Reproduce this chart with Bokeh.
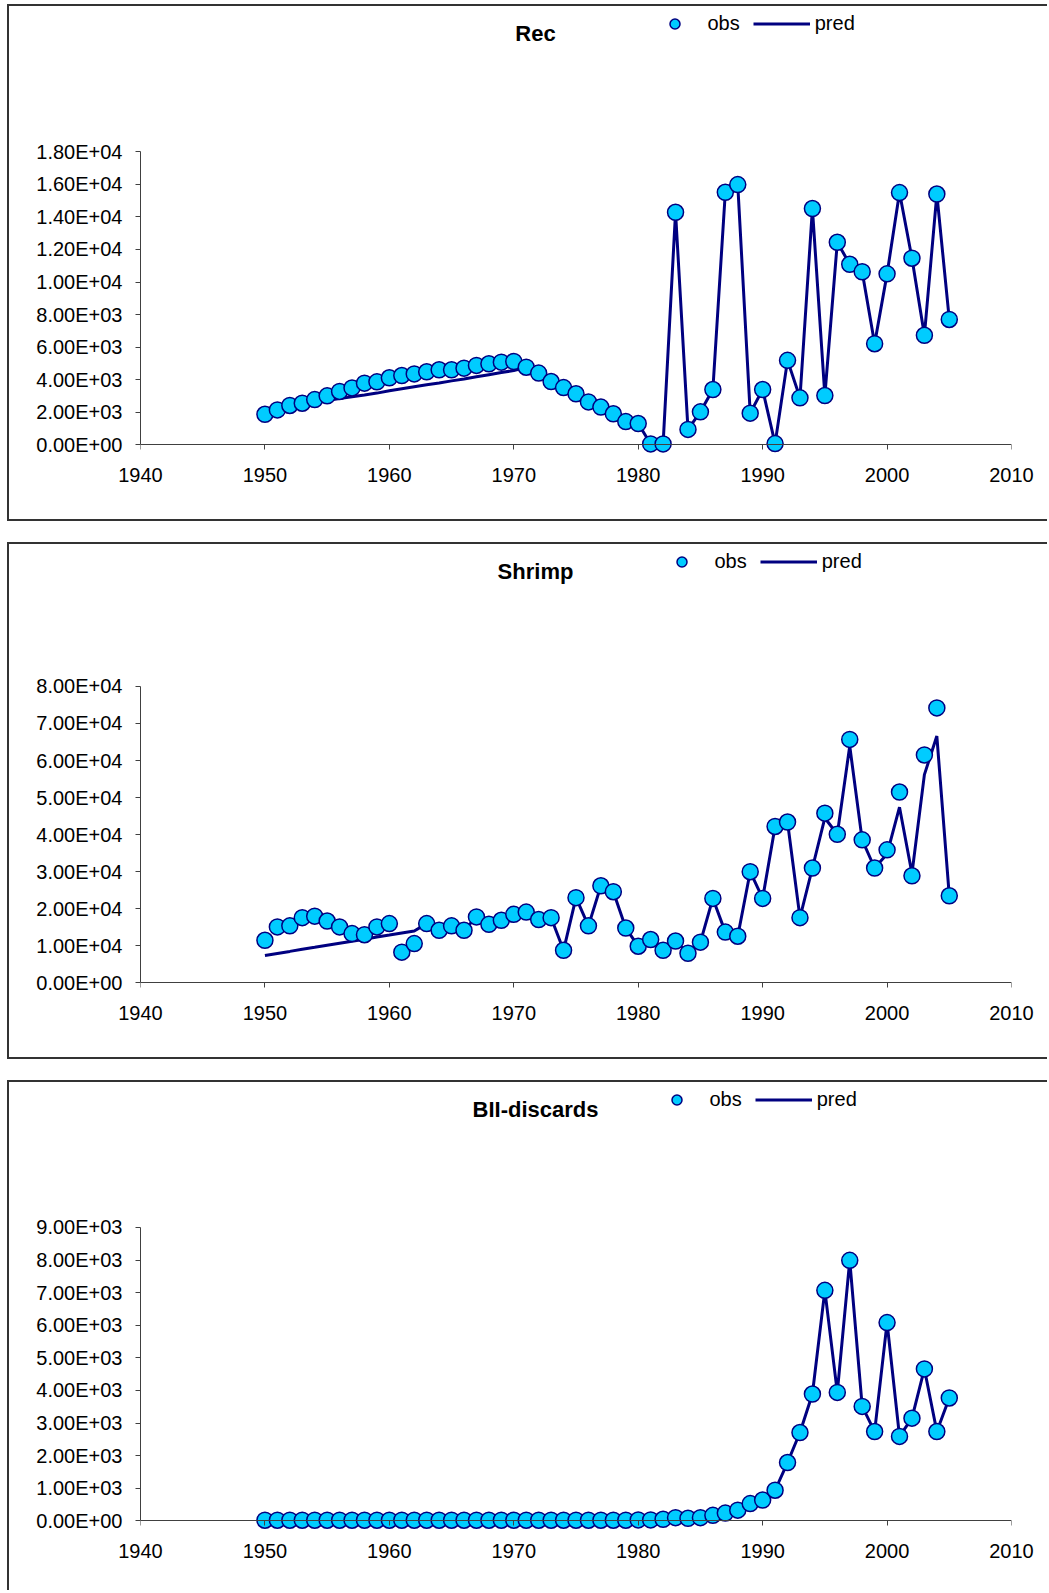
from bokeh.plotting import figure
from bokeh.layouts import column
from bokeh.models import Range1d, FixedTicker, Label, Legend, LegendItem, LinearAxis
from bokeh.embed import file_html
from bokeh.resources import INLINE

# ---------------- data ----------------
years = list(range(1950, 2006))

x_ticks = [1940, 1950, 1960, 1970, 1980, 1990, 2000, 2010]
x_tick_labels = ["1940", "1950", "1960", "1970", "1980", "1990", "2000", "2010"]

rec_obs = [1880, 2150, 2420, 2560, 2780, 3010, 3280, 3500, 3790, 3870,
           4120, 4260, 4360, 4490, 4610, 4610, 4710, 4880, 4980, 5080,
           5120, 4770, 4410, 3890, 3520, 3140, 2640, 2320, 1910, 1430,
           1310, 60, 60, 14280, 950, 2030, 3400, 15510, 15980, 1950,
           3400, 80, 5190, 2890, 14510, 3030, 12440, 11090, 10630, 6210,
           10500, 15490, 11460, 6730, 15400, 7700]
rec_pred = [1900, 2100, 2290, 2450, 2600, 2730, 2840, 2950, 3060, 3180,
            3330, 3450, 3570, 3690, 3800, 3930, 4050, 4180, 4310, 4440,
            4570, 4770, 4410, 3890, 3520, 3140, 2640, 2320, 1910, 1430,
            1310, 60, 60, 14280, 950, 2030, 3400, 15510, 15980, 1950,
            3400, 80, 5190, 2890, 14510, 3030, 12440, 11090, 10630, 6210,
            10500, 15490, 11460, 6730, 15400, 7700]
rec_y_ticks = [0, 2000, 4000, 6000, 8000, 10000, 12000, 14000, 16000, 18000]
rec_y_labels = ["0.00E+00", "2.00E+03", "4.00E+03", "6.00E+03", "8.00E+03",
                "1.00E+04", "1.20E+04", "1.40E+04", "1.60E+04", "1.80E+04"]

shrimp_obs = [11500, 15100, 15400, 17600, 18000, 16700, 15100, 13300, 13000, 15100,
              16000, 8300, 10600, 16000, 14200, 15400, 14200, 17800, 15800, 16900,
              18500, 19100, 17100, 17600, 8800, 23000, 15400, 26200, 24600, 14800,
              9900, 11700, 8800, 11300, 8000, 11000, 22800, 13700, 12600, 30000,
              22800, 42200, 43400, 17600, 31000, 45800, 40100, 65700, 38600, 31000,
              35900, 51500, 28900, 61500, 74200, 23500]
shrimp_pred = [7400, 7950, 8500, 9100, 9600, 10150, 10700, 11250, 11800, 12400,
               12900, 13450, 14000, 16000, 14200, 15400, 14200, 17800, 15800, 16900,
               18500, 19100, 17100, 17600, 8800, 23000, 15400, 26200, 24600, 14800,
               9900, 11700, 8800, 11300, 8000, 11000, 22800, 13700, 12600, 30000,
               22800, 42200, 43400, 17600, 31000, 44500, 40100, 63900, 38600, 31000,
               34800, 47400, 29500, 56200, 66600, 23500]
shrimp_y_ticks = [0, 10000, 20000, 30000, 40000, 50000, 60000, 70000, 80000]
shrimp_y_labels = ["0.00E+00", "1.00E+04", "2.00E+04", "3.00E+04", "4.00E+04",
                   "5.00E+04", "6.00E+04", "7.00E+04", "8.00E+04"]

bii_obs = [20, 20, 20, 20, 20, 20, 20, 20, 20, 20,
           20, 20, 20, 20, 20, 20, 20, 20, 20, 20,
           20, 20, 20, 20, 20, 20, 20, 20, 20, 20,
           30, 30, 50, 100, 80, 100, 170, 240, 330, 530,
           640, 940, 1790, 2710, 3890, 7070, 3940, 7990, 3510, 2740,
           6080, 2590, 3150, 4660, 2740, 3770]
bii_pred = list(bii_obs)
bii_y_ticks = [0, 1000, 2000, 3000, 4000, 5000, 6000, 7000, 8000, 9000]
bii_y_labels = ["0.00E+00", "1.00E+03", "2.00E+03", "3.00E+03", "4.00E+03",
                "5.00E+03", "6.00E+03", "7.00E+03", "8.00E+03", "9.00E+03"]

# ---------------- styling / geometry ----------------
FONT = "Liberation Sans"
FILL = "#00CCFF"
NAVY = "#000080"
AXIS = "#404040"
W = 1040
FRAME_H = 451        # frame: from canvas top down to a small pad below zero
ZERO_FROM_TOP = 438.4


def make_panel(title, obs, pred, ymax, yt, ylab, legend_x, height, span, last=False):
    above = ZERO_FROM_TOP / span
    below = (FRAME_H - ZERO_FROM_TOP) / span
    p = figure(width=W, height=height, output_backend="svg", toolbar_location=None,
               title=None,
               x_range=Range1d(1940, 2010),
               y_range=Range1d(-ymax * below, ymax * above),
               min_border_left=131, min_border_right=38, min_border_top=0,
               min_border_bottom=height - FRAME_H,
               outline_line_color=None, background_fill_color="white",
               border_fill_color="white")
    p.xgrid.visible = False
    p.ygrid.visible = False

    ln = p.line(years, pred, line_color=NAVY, line_width=3)
    sc = p.scatter(years, obs, size=16, fill_color=FILL, line_color=NAVY, line_width=1.5)

    # x axis drawn at y = 0 (line + ticks)
    xa = p.xaxis[0]
    xa.fixed_location = 0
    xa.bounds = (1940, 2010)
    xa.ticker = FixedTicker(ticks=x_ticks)
    xa.major_label_text_alpha = 0
    # second x axis below the frame, carrying the tick labels
    xl = LinearAxis(ticker=FixedTicker(ticks=x_ticks))
    xl.major_label_overrides = {t: s for t, s in zip(x_ticks, x_tick_labels)}
    xl.axis_line_color = None
    xl.major_tick_line_color = None
    xl.major_tick_out = 0
    xl.major_tick_in = 0
    xl.major_label_standoff = 10
    p.add_layout(xl, "below")

    ya = p.yaxis[0]
    ya.bounds = (0, ymax)
    ya.ticker = FixedTicker(ticks=yt)
    ya.major_label_overrides = {t: s for t, s in zip(yt, ylab)}
    ya.major_label_standoff = 13
    for ax in (xa, ya):
        ax.axis_line_color = AXIS
        ax.axis_line_width = 1
        ax.major_tick_line_color = AXIS
        ax.major_tick_out = 5
        ax.major_tick_in = 0
    for ax in (xa, ya, xl):
        ax.minor_tick_line_color = None
        ax.major_label_text_font = FONT
        ax.major_label_text_font_size = "20px"
        ax.major_label_text_color = "black"

    p.add_layout(Label(x=395, y=FRAME_H - 27, x_units="screen", y_units="screen",
                       text=title, text_align="center", text_baseline="middle",
                       text_font=FONT, text_font_size="22px", text_font_style="bold",
                       text_color="black"))

    leg = Legend(items=[LegendItem(label="obs", renderers=[sc]),
                        LegendItem(label="pred", renderers=[ln])],
                 location=(legend_x, FRAME_H - 29.5), orientation="horizontal",
                 glyph_width=57, glyph_height=25, label_standoff=5, spacing=13,
                 padding=0, margin=0, border_line_color=None,
                 background_fill_alpha=0, label_text_font=FONT,
                 label_text_font_size="20px", label_text_color="black")
    p.add_layout(leg)

    st = {"border": "2px solid #333333", "border-right": "none",
          "box-sizing": "border-box"}
    if last:
        st["border-bottom"] = "none"
    p.styles = st
    return p


p1 = make_panel("Rec", rec_obs, rec_pred, 18000, rec_y_ticks, rec_y_labels,
                505.5, 517, 293.2)
p2 = make_panel("Shrimp", shrimp_obs, shrimp_pred, 80000, shrimp_y_ticks, shrimp_y_labels,
                512.5, 517, 296.5)
p3 = make_panel("BII-discards", bii_obs, bii_pred, 9000, bii_y_ticks, bii_y_labels,
                507.5, 510, 293.5, last=True)

layout = column(p1, p2, p3, spacing=21,
                styles={"margin-left": "7px", "margin-top": "4px"})

open("out.html", "w").write(file_html(layout, INLINE))
